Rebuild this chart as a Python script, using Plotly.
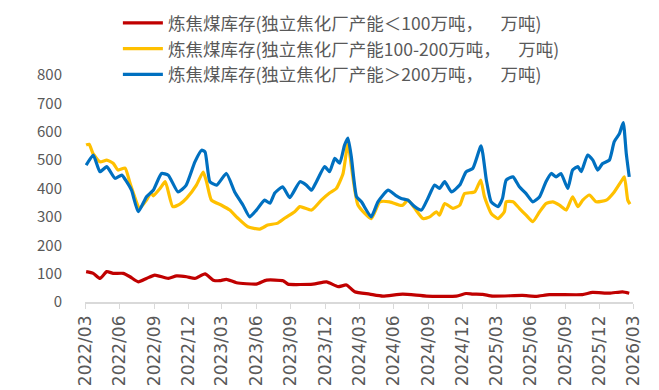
import plotly.graph_objects as go

names = [
    "炼焦煤库存(独立焦化厂产能＜100万吨，\u3000\u2002万吨)",
    "炼焦煤库存(独立焦化厂产能100-200万吨，\u3000\u2002万吨)",
    "炼焦煤库存(独立焦化厂产能＞200万吨，\u3000\u2002万吨)",
]

red_dates = ["2022-03-04","2022-03-23","2022-04-10","2022-04-28","2022-05-15","2022-06-11","2022-06-29",
             "2022-07-21","2022-08-12","2022-09-03","2022-10-09","2022-10-31","2022-11-27","2022-12-19",
             "2023-01-15","2023-02-06","2023-02-23","2023-03-13","2023-04-09","2023-06-01","2023-06-28",
             "2023-08-11","2023-08-24","2023-10-30","2023-12-05","2024-01-05","2024-01-27","2024-02-18",
             "2024-03-29","2024-05-03","2024-06-25","2024-08-27","2024-11-15","2024-12-11","2024-12-29",
             "2025-01-24","2025-02-20","2025-05-10","2025-06-16","2025-07-21","2025-10-17","2025-11-13",
             "2025-12-28","2026-02-01","2026-02-19"]
red_vals = [107,101,83,107,101,101,89,71,83,95,83,92,89,83,99,77,75,80,68,63,77,75,63,63,71,54,60,36,
            28,21,28,21,21,30,28,27,21,23,20,26,26,34,31,36,31]

yellow_dates = ["2022-03-04","2022-03-12","2022-03-22","2022-04-10","2022-04-28","2022-05-15","2022-05-28",
                "2022-06-16","2022-06-29","2022-07-25","2022-08-12","2022-08-24","2022-08-30","2022-09-17",
                "2022-10-01","2022-10-21","2022-11-09","2022-11-27","2022-12-23","2023-01-10","2023-01-19",
                "2023-02-01","2023-02-28","2023-03-22","2023-04-12","2023-05-09","2023-06-10","2023-07-01",
                "2023-07-28","2023-08-16","2023-09-11","2023-09-25","2023-10-26","2023-11-21","2023-12-13",
                "2023-12-31","2024-01-18","2024-01-31","2024-02-10","2024-02-27","2024-04-02","2024-04-25",
                "2024-05-21","2024-06-17","2024-06-25","2024-07-09","2024-07-27","2024-08-18","2024-09-05",
                "2024-09-23","2024-10-01","2024-10-15","2024-11-06","2024-11-24","2024-12-07","2025-01-03",
                "2025-01-19","2025-01-29","2025-02-16","2025-03-06","2025-03-23","2025-03-28","2025-04-15",
                "2025-05-02","2025-05-20","2025-06-07","2025-06-25","2025-07-12","2025-07-30","2025-08-17",
                "2025-09-04","2025-09-21","2025-10-05","2025-10-18","2025-11-05","2025-11-23","2025-12-20",
                "2026-01-10","2026-01-28","2026-02-06","2026-02-15","2026-02-21"]
yellow_vals = [553,556,524,494,500,489,465,472,419,331,359,385,374,400,424,336,345,366,412,458,424,
               359,341,324,296,265,257,271,278,296,318,336,324,359,384,400,453,560,470,341,294,353,
               353,341,341,359,330,294,300,318,306,347,330,341,382,388,430,371,312,294,318,353,353,
               330,306,283,318,347,353,341,324,371,336,359,377,353,359,388,424,441,359,345]

blue_dates = ["2022-03-04","2022-03-23","2022-04-10","2022-04-28","2022-05-20","2022-06-07","2022-06-20",
              "2022-07-03","2022-07-21","2022-08-12","2022-08-30","2022-09-21","2022-10-09","2022-11-04",
              "2022-11-25","2022-12-19","2023-01-06","2023-01-15","2023-01-28","2023-02-15","2023-03-13",
              "2023-04-04","2023-04-26","2023-05-14","2023-06-01","2023-06-23","2023-07-07","2023-07-20",
              "2023-08-10","2023-08-29","2023-09-25","2023-10-12","2023-10-26","2023-11-08","2023-11-30",
              "2023-12-13","2023-12-27","2024-01-09","2024-01-22","2024-01-31","2024-02-09","2024-02-23",
              "2024-03-07","2024-04-02","2024-04-20","2024-05-17","2024-06-06","2024-06-21","2024-07-09",
              "2024-07-27","2024-08-14","2024-08-31","2024-09-18","2024-10-01","2024-10-15","2024-11-02",
              "2024-11-24","2024-12-11","2024-12-29","2025-01-20","2025-02-03","2025-02-16","2025-03-06",
              "2025-03-18","2025-03-28","2025-04-15","2025-05-02","2025-05-20","2025-06-07","2025-06-25",
              "2025-07-12","2025-07-26","2025-08-08","2025-08-21","2025-09-08","2025-09-21","2025-10-05",
              "2025-10-14","2025-10-31","2025-11-14","2025-11-27","2025-12-10","2025-12-28","2026-01-10",
              "2026-01-24","2026-02-03","2026-02-11","2026-02-19"]
blue_vals = [482,518,459,477,436,447,424,394,318,371,394,453,447,388,410,494,535,529,424,412,453,
             388,342,300,324,359,348,384,406,368,424,412,394,424,477,459,506,489,553,578,512,371,
             353,300,353,394,376,365,359,336,324,365,412,400,424,388,412,459,471,550,430,353,336,
             365,430,441,406,382,353,371,424,453,441,453,400,465,477,459,518,500,465,488,500,565,
             594,632,524,441]

colors = ["#C00000", "#FFC000", "#0070C0"]
series = [(red_dates, red_vals), (yellow_dates, yellow_vals), (blue_dates, blue_vals)]

cjk = "Noto Sans CJK SC"
fig = go.Figure()
for (d, v), n, c in zip(series, names, colors):
    fig.add_trace(go.Scatter(x=d, y=v, name=n, mode="lines",
                             line=dict(color=c, width=3.2, shape="spline", smoothing=0.5)))

fig.update_layout(
    width=651, height=382,
    margin=dict(l=77, r=26, t=67, b=88, autoexpand=False),
    paper_bgcolor="white", plot_bgcolor="white",
    font=dict(family=cjk, size=14, color="#595959"),
    showlegend=True,
    legend=dict(x=0.06, y=1.308, xanchor="left", yanchor="top",
                font=dict(family=cjk, size=17.5, color="#595959"),
                bgcolor="rgba(0,0,0,0)", tracegroupgap=0, itemwidth=40),
)
fig.update_xaxes(
    type="date", range=["2022-03-01", "2026-03-01"],
    tick0="2022-03-01", dtick="M3", tickformat="%Y/%m",
    tickangle=-90, ticks="outside", ticklen=5, tickcolor="#D9D9D9",
    showline=True, linecolor="#D9D9D9", linewidth=1.5,
    showgrid=False, zeroline=False, automargin=False,
    tickfont=dict(family="DejaVu Sans", size=17, color="#595959"),
)
fig.update_yaxes(
    range=[0, 800], dtick=100, showgrid=False, zeroline=False, showline=False,
    automargin=False,
    tickfont=dict(family=cjk, size=15, color="#595959"),
    ticks="", ticklabelstandoff=22,
)

fig.write_html("out.html")
